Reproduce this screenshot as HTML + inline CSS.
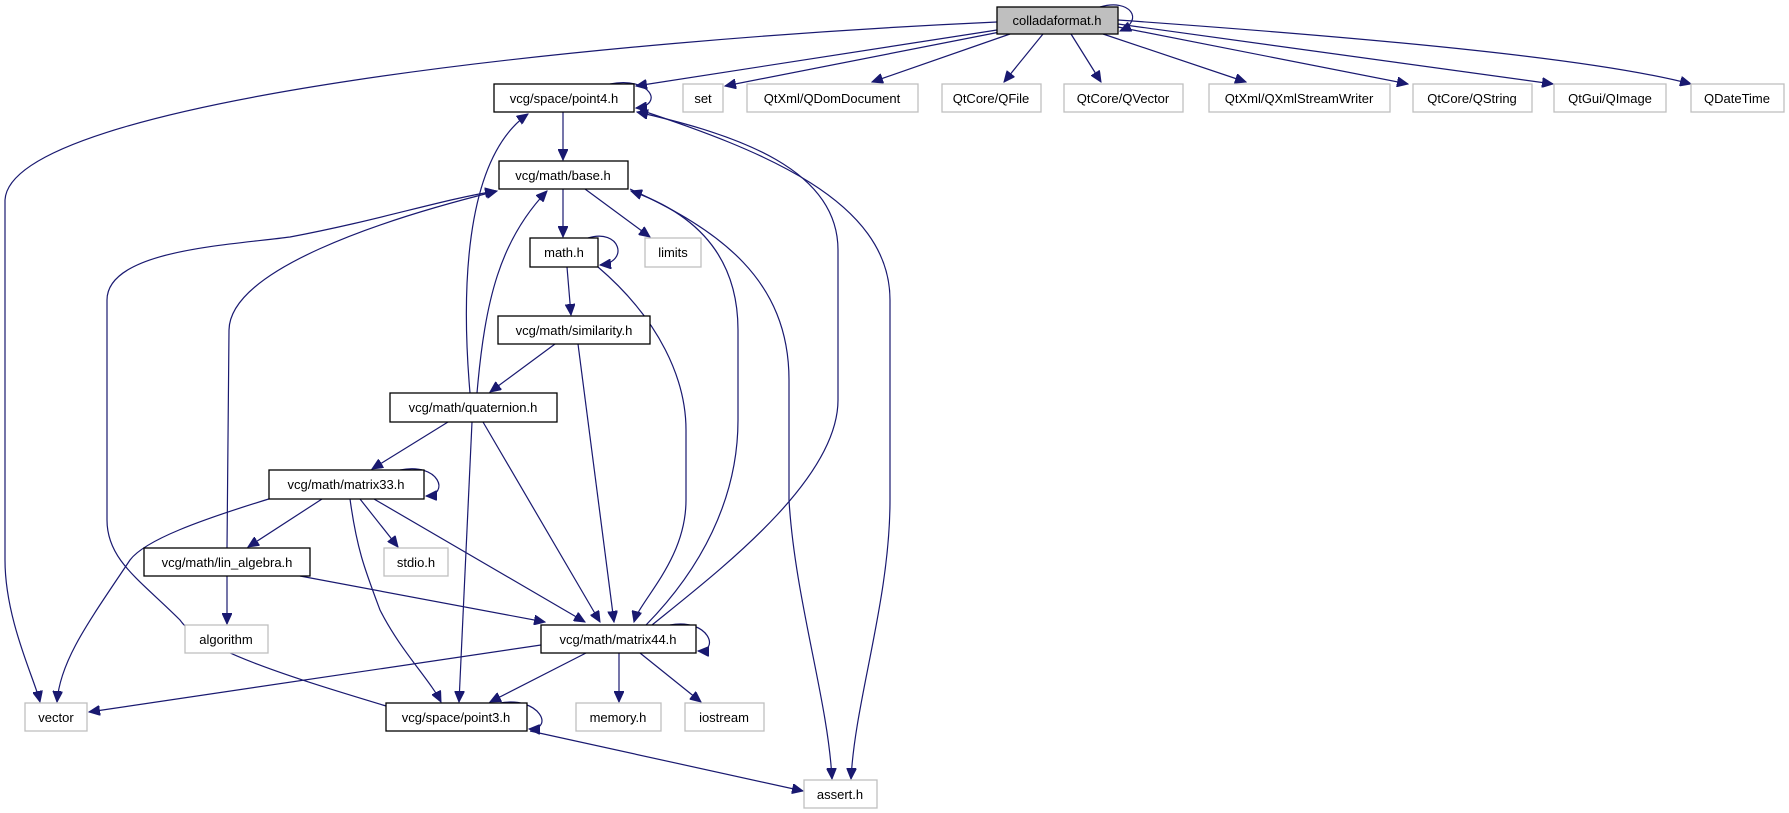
<!DOCTYPE html>
<html><head><meta charset="utf-8"><style>
html,body{margin:0;padding:0;background:#fff;}
svg{display:block;}
text{font-family:"Liberation Sans",sans-serif;font-size:13px;text-anchor:middle;fill:#000;}
.e{fill:none;stroke:#191970;stroke-width:1.2;}
.b{fill:#fff;stroke:#000;stroke-width:1.3;}
.g{fill:#fff;stroke:#bfbfbf;stroke-width:1.3;}
</style></head><body>
<svg width="1789" height="813" viewBox="0 0 1789 813" xmlns="http://www.w3.org/2000/svg">
<defs><marker id="a" markerUnits="userSpaceOnUse" markerWidth="12" markerHeight="10" refX="11" refY="5" orient="auto"><path d="M0,0 L11,5 L0,10 z" fill="#191970" stroke="#191970"/></marker></defs>
<g class="e" marker-end="url(#a)">
<path d="M997,22 C600,40 10,100 5,200 L5,560 C5,620 35,680 40,702"/>
<path d="M997,30 L636,86"/>
<path d="M1000,32 L725,86"/>
<path d="M1010,34 L872,82"/>
<path d="M1043,34 L1004,82"/>
<path d="M1071,34 L1101,82"/>
<path d="M1103,34 L1246,82"/>
<path d="M1118,27 L1408,84"/>
<path d="M1118,24 L1553,84"/>
<path d="M1118,20 C1400,40 1600,60 1691,84"/>
<path d="M1100,7 C1130,-2 1145,20 1120,31"/>
<path d="M610,84 C650,76 665,105 636,108"/>
<path d="M563,112 L563,160"/>
<path d="M640,110 C760,150 890,200 890,300 L890,500 C890,600 855,700 851,779"/>
<path d="M652,625 C720,570 838,480 838,400 L838,250 C838,170 740,135 637,112"/>
<path d="M470,393 C462,300 462,160 528,114"/>
<path d="M477,393 C485,300 500,240 547,191"/>
<path d="M227,548 L229,330 C230,270 380,220 497,191"/>
<path d="M386,706 C300,680 200,650 180,620 C140,580 107,560 107,520 L107,300 C107,250 230,245 290,237 C380,220 440,200 496,191"/>
<path d="M598,267 C660,320 686,380 686,430 L686,500 C686,560 640,600 634,622"/>
<path d="M646,625 C700,570 738,500 738,420 L738,330 C738,260 700,215 631,191"/>
<path d="M630,189 C720,230 789,280 789,380 L789,500 C795,600 828,700 832,779"/>
<path d="M563,189 L563,237"/>
<path d="M585,189 L650,237"/>
<path d="M588,238 C620,228 630,262 600,265"/>
<path d="M567,267 L571,315"/>
<path d="M555,344 L490,392"/>
<path d="M578,344 L614,622"/>
<path d="M448,422 L372,469"/>
<path d="M472,422 L459,702"/>
<path d="M483,422 L600,622"/>
<path d="M400,470 C440,462 450,495 426,496"/>
<path d="M272,498 C200,520 145,540 130,560 C90,620 60,660 57,702"/>
<path d="M322,499 L248,547"/>
<path d="M360,499 L398,547"/>
<path d="M350,499 C357,550 365,570 380,610 C400,650 430,680 441,702"/>
<path d="M374,499 L585,622"/>
<path d="M227,576 L227,624"/>
<path d="M300,576 L545,622"/>
<path d="M541,645 L89,712"/>
<path d="M586,653 L490,702"/>
<path d="M619,653 L619,702"/>
<path d="M640,653 L701,702"/>
<path d="M670,625 C710,618 720,652 698,651"/>
<path d="M500,703 C540,696 555,730 529,729"/>
<path d="M530,731 L803,791"/>
</g>
<rect x="997" y="7" width="121" height="27" fill="#bfbfbf" stroke="#000" stroke-width="1.3"/><text x="1057" y="25">colladaformat.h</text>
<rect class="b" x="494" y="84" width="140" height="28"/><text x="564" y="103">vcg/space/point4.h</text>
<rect class="g" x="683" y="84" width="40" height="28"/><text x="703" y="103">set</text>
<rect class="g" x="747" y="84" width="171" height="28"/><text x="832" y="103">QtXml/QDomDocument</text>
<rect class="g" x="942" y="84" width="99" height="28"/><text x="991" y="103">QtCore/QFile</text>
<rect class="g" x="1064" y="84" width="119" height="28"/><text x="1123" y="103">QtCore/QVector</text>
<rect class="g" x="1209" y="84" width="181" height="28"/><text x="1299" y="103">QtXml/QXmlStreamWriter</text>
<rect class="g" x="1413" y="84" width="119" height="28"/><text x="1472" y="103">QtCore/QString</text>
<rect class="g" x="1554" y="84" width="112" height="28"/><text x="1610" y="103">QtGui/QImage</text>
<rect class="g" x="1691" y="84" width="93" height="28"/><text x="1737" y="103">QDateTime</text>
<rect class="b" x="499" y="161" width="129" height="28"/><text x="563" y="180">vcg/math/base.h</text>
<rect class="b" x="530" y="238" width="68" height="29"/><text x="564" y="257">math.h</text>
<rect class="g" x="645" y="238" width="56" height="29"/><text x="673" y="257">limits</text>
<rect class="b" x="498" y="316" width="152" height="28"/><text x="574" y="335">vcg/math/similarity.h</text>
<rect class="b" x="390" y="393" width="167" height="29"/><text x="473" y="412">vcg/math/quaternion.h</text>
<rect class="b" x="269" y="470" width="155" height="29"/><text x="346" y="489">vcg/math/matrix33.h</text>
<rect class="b" x="144" y="548" width="166" height="28"/><text x="227" y="567">vcg/math/lin_algebra.h</text>
<rect class="g" x="384" y="548" width="64" height="28"/><text x="416" y="567">stdio.h</text>
<rect class="g" x="185" y="625" width="83" height="28"/><text x="226" y="644">algorithm</text>
<rect class="b" x="541" y="625" width="155" height="28"/><text x="618" y="644">vcg/math/matrix44.h</text>
<rect class="g" x="25" y="703" width="62" height="28"/><text x="56" y="722">vector</text>
<rect class="b" x="386" y="703" width="141" height="28"/><text x="456" y="722">vcg/space/point3.h</text>
<rect class="g" x="576" y="703" width="85" height="28"/><text x="618" y="722">memory.h</text>
<rect class="g" x="685" y="703" width="79" height="28"/><text x="724" y="722">iostream</text>
<rect class="g" x="804" y="780" width="73" height="28"/><text x="840" y="799">assert.h</text>
</svg>
</body></html>
